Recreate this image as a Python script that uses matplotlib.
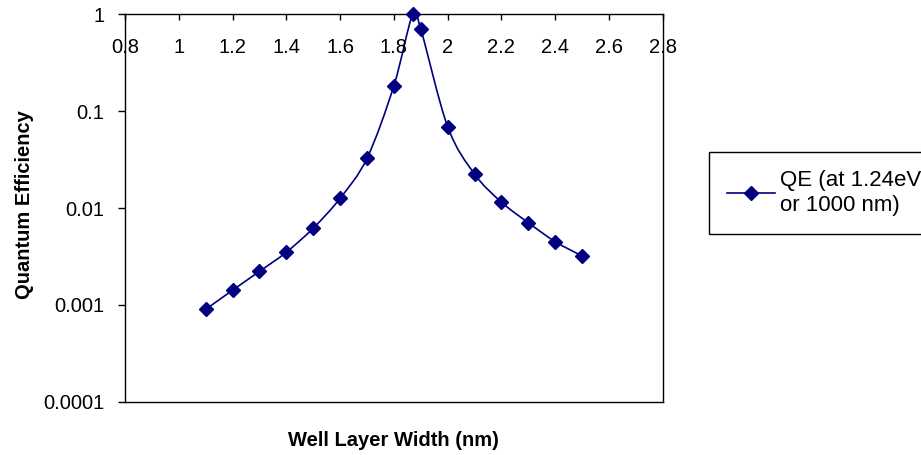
import matplotlib
matplotlib.use('Agg')
import matplotlib.pyplot as plt
from matplotlib.path import Path
from matplotlib.patches import PathPatch
from matplotlib.lines import Line2D
from matplotlib.ticker import FixedLocator, FuncFormatter, NullLocator
import numpy as np

plt.rcParams['font.family'] = ['Liberation Sans', 'DejaVu Sans']

# well width (nm) and quantum efficiency
width_nm = [1.1, 1.2, 1.3, 1.4, 1.5, 1.6, 1.7, 1.8, 1.87, 1.9,
            2.0, 2.1, 2.2, 2.3, 2.4, 2.5]
qe = [9.0e-4, 1.42e-3, 2.22e-3, 3.5e-3, 6.2e-3, 1.26e-2, 3.25e-2, 0.182, 0.99, 0.70,
      0.069, 0.0224, 0.0115, 7.05e-3, 4.5e-3, 3.2e-3]
x_ticks = [0.8, 1.0, 1.2, 1.4, 1.6, 1.8, 2.0, 2.2, 2.4, 2.6, 2.8]
y_ticks = [1e-4, 1e-3, 1e-2, 1e-1, 1]
series_label = 'QE (at 1.24eV\nor 1000 nm)'

NAVY = '#000080'


def smooth_path(xs, ys):
    # Excel-style smoothed line: cubic Bezier segments (Catmull-Rom control
    # points) built in x / log10(y) space, drawn through the axes transform
    px = np.asarray(xs, float)
    py = np.log10(np.asarray(ys, float))
    n = len(px)
    verts = [(px[0], py[0])]
    codes = [Path.MOVETO]
    for i in range(n - 1):
        p0 = max(i - 1, 0)
        p3 = min(i + 2, n - 1)
        c1 = (px[i] + (px[i + 1] - px[p0]) / 6, py[i] + (py[i + 1] - py[p0]) / 6)
        c2 = (px[i + 1] - (px[p3] - px[i]) / 6, py[i + 1] - (py[p3] - py[i]) / 6)
        verts += [c1, c2, (px[i + 1], py[i + 1])]
        codes += [Path.CURVE4] * 3
    verts = np.array(verts)
    verts[:, 1] = 10 ** verts[:, 1]
    return Path(verts, codes)


fig = plt.figure(figsize=(9.21, 4.55), dpi=100)
ax = fig.add_axes([0.1357, 0.1165, 0.5839, 0.8527])

ax.set_yscale('log')
ax.set_xlim(0.8, 2.8)
ax.set_ylim(1e-4, 1)

ax.add_patch(PathPatch(smooth_path(width_nm, qe), fill=False,
                       edgecolor=NAVY, linewidth=1.2))
ax.plot(width_nm, qe, linestyle='none', marker='D', markersize=7.5,
        color=NAVY, clip_on=False, zorder=5)

ax.xaxis.set_major_locator(FixedLocator(x_ticks))
ax.xaxis.set_major_formatter(FuncFormatter(lambda v, p: f'{v:g}'))
ax.yaxis.set_major_locator(FixedLocator(y_ticks))
ax.yaxis.set_major_formatter(FuncFormatter(lambda v, p: f'{v:g}'))
ax.yaxis.set_minor_locator(NullLocator())

ax.tick_params(axis='x', top=True, bottom=False, labeltop=True, labelbottom=False,
               direction='in', length=4.5, width=1, pad=-31, labelsize=14.5)
ax.tick_params(axis='y', direction='out', length=5, width=1, pad=10, labelsize=14.5)

for s in ax.spines.values():
    s.set_linewidth(1)
    s.set_color('black')

ax.set_xlabel('Well Layer Width (nm)', fontsize=14.5, fontweight='bold', labelpad=21)
ax.set_ylabel('Quantum Efficiency', fontsize=14.5, fontweight='bold')
ax.yaxis.set_label_coords(-0.17, 0.508)

handle = Line2D([], [], color=NAVY, linewidth=1.2, marker='D', markersize=7.5)
leg = fig.legend([handle], [series_label], loc='upper left',
                 bbox_to_anchor=(709 / 921, 1 - 152 / 455), fontsize=16,
                 frameon=True, fancybox=False, shadow=False, framealpha=1,
                 edgecolor='black', handlelength=2.16, handletextpad=0.22,
                 borderpad=0.8, borderaxespad=0, numpoints=1)
leg.get_frame().set_linewidth(1)
leg.get_texts()[0].set_linespacing(1.27)

fig.savefig('out.png', dpi=100)
